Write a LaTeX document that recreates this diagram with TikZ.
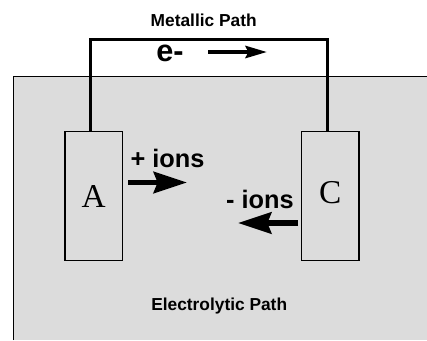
\documentclass[tikz,border=0pt]{standalone}
\usepackage{fontspec}
\setmainfont{Liberation Serif}
\setsansfont{Liberation Sans}
\usepackage{tikz}
\usetikzlibrary{arrows.meta,positioning}
\definecolor{bath}{HTML}{DCDCDC}

\begin{document}
\begin{tikzpicture}[
    x=0.75pt,y=-0.75pt,
    electrode/.style={draw,line width=1.1pt,fill=bath,minimum width=43pt,minimum height=97pt,inner sep=0pt,font=\fontsize{25}{25}\selectfont},
    pathlabel/.style={anchor=base,inner sep=0pt,font=\sffamily\bfseries\fontsize{13}{15}\selectfont},
    ionlabel/.style={anchor=base,inner sep=0pt,font=\sffamily\bfseries\fontsize{19}{22}\selectfont},
    wire/.style={line width=2.5pt,line join=miter},
    ionarrow/.style={-{Stealth[length=25pt,width=16pt,inset=3pt]},line width=4pt},
    flowarrow/.style={-{Stealth[length=16pt,width=9pt,inset=2pt]},line width=3pt}
  ]
    \useasboundingbox (0,0) rectangle (427,340);
    % electrolyte bath
    \fill[bath] (13.5,76.5) rectangle (427,340);
    \draw[line width=1.3pt] (13.5,340) |- (427,76.5);

    \node[electrode] (A) at (93.6,196) {A};
    \node[electrode,text depth=6pt] (C) at (330.2,196) {C};

    % metallic path
    \coordinate (wiretop) at (208,39.5);
    \draw[wire] ([xshift=-2.25pt]A.north) |- (wiretop) -| ([xshift=-2.25pt]C.north);
    \node[pathlabel] (metallic) at (203.7,26) {Metallic Path};
    \node[pathlabel,font=\sffamily\bfseries\fontsize{23}{25}\selectfont] (electron) at (170,61) {e-};
    \coordinate (e1) at (208,52);
    \coordinate (e2) at (267,52);
    \draw[flowarrow] (e1) -- (e2);

    % ions in the electrolyte
    \node[ionlabel] (plusions) at (167.5,167.5) {+ ions};
    \node[ionlabel] (minusions) at (260,208) {- ions};
    \coordinate (p1) at (128,182.5);
    \coordinate (p2) at (187,182.5);
    \coordinate (m1) at (298,223);
    \coordinate (m2) at (238,223);
    \draw[ionarrow] (p1) -- (p2);
    \draw[ionarrow] (m1) -- (m2);

    \node[pathlabel] (electrolytic) at (219.2,310) {Electrolytic Path};
  \end{tikzpicture}
\end{document}
